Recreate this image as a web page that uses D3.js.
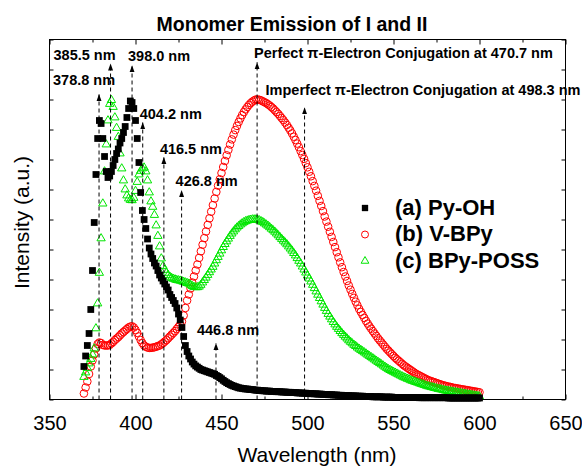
<!DOCTYPE html>
<html>
<head>
<meta charset="utf-8">
<script src="https://cdn.jsdelivr.net/npm/d3@7/dist/d3.min.js"></script>
<style>
  body { margin: 0; background: #fff; }
  text { font-family: "Liberation Sans", Arial, sans-serif; }
</style>
</head>
<body>
<svg width="582" height="468"></svg>
<script>
// wavelength grid, 1 nm steps
var wavelengths = d3.range(370, 601);

// (a) Py-OH
var pyOH = [
  1.1, 1.45, 1.8, 2.2, 3.0, 4.3, 5.9, 7.5, 8.7, 9.3,
  9.2, 8.7, 8.1, 7.6, 7.4, 7.45, 7.6, 7.8, 8.0, 8.2,
  8.35, 8.55, 8.7, 8.9, 9.1, 9.4, 9.7, 9.95, 9.9, 9.7,
  9.3, 8.7, 7.9, 6.9, 6.3, 6.0, 5.7, 5.35, 5.05, 4.85,
  4.7, 4.55, 4.45, 4.3, 4.15, 4.05, 3.95, 3.85, 3.75, 3.65,
  3.5, 3.4, 3.3, 3.2, 3.05, 2.85, 2.65, 2.4, 2.1, 1.8,
  1.6, 1.45, 1.35, 1.25, 1.18, 1.12, 1.08, 1.04, 1.0, 0.98,
  0.96, 0.94, 0.92, 0.9, 0.88, 0.86, 0.84, 0.8, 0.77, 0.73,
  0.69, 0.64, 0.6, 0.56, 0.53, 0.5, 0.47, 0.45, 0.43, 0.41,
  0.39, 0.38, 0.37, 0.36, 0.35, 0.35, 0.34, 0.33, 0.33, 0.32,
  0.31, 0.31, 0.30, 0.30, 0.29, 0.29, 0.28, 0.28, 0.28, 0.27,
  0.27, 0.27, 0.26, 0.26, 0.26, 0.25, 0.25, 0.25, 0.24, 0.24,
  0.24, 0.23, 0.23, 0.23, 0.22, 0.22, 0.22, 0.21, 0.21, 0.21,
  0.20, 0.20, 0.20, 0.19, 0.19, 0.19, 0.18, 0.18, 0.18, 0.17,
  0.17, 0.17, 0.16, 0.16, 0.16, 0.15, 0.15, 0.15, 0.14, 0.14,
  0.14, 0.13, 0.13, 0.13, 0.13, 0.12, 0.12, 0.12, 0.12, 0.11,
  0.11, 0.11, 0.11, 0.10, 0.10, 0.10, 0.10, 0.10, 0.09, 0.09,
  0.09, 0.09, 0.09, 0.09, 0.08, 0.08, 0.08, 0.08, 0.08, 0.08,
  0.07, 0.07, 0.07, 0.07, 0.07, 0.07, 0.07, 0.07, 0.07, 0.07,
  0.07, 0.07, 0.07, 0.07, 0.07, 0.06, 0.06, 0.06, 0.06, 0.06,
  0.06, 0.06, 0.06, 0.06, 0.06, 0.06, 0.06, 0.06, 0.06, 0.06,
  0.06, 0.06, 0.05, 0.05, 0.05, 0.05, 0.05, 0.05, 0.05, 0.05,
  0.05, 0.05, 0.05, 0.05, 0.05, 0.05, 0.05, 0.05, 0.05, 0.05,
  0.05
];

// (b) V-BPy
var vBPy = [
  0.2, 0.4, 0.6, 0.85, 1.1, 1.3, 1.5, 1.7, 1.85, 1.9,
  1.88, 1.82, 1.8, 1.8, 1.8, 1.82, 1.87, 1.92, 1.98, 2.03,
  2.08, 2.14, 2.2, 2.25, 2.3, 2.35, 2.4, 2.43, 2.44, 2.4,
  2.32, 2.22, 2.1, 1.98, 1.88, 1.8, 1.76, 1.73, 1.72, 1.72,
  1.73, 1.74, 1.76, 1.78, 1.8, 1.84, 1.88, 1.93, 1.98, 2.04,
  2.1, 2.16, 2.22, 2.28, 2.35, 2.42, 2.5, 2.6, 2.8, 3.05,
  3.3, 3.5, 3.7, 3.9, 4.1, 4.3, 4.5, 4.72, 4.94, 5.16,
  5.38, 5.6, 5.82, 6.04, 6.26, 6.48, 6.7, 6.92, 7.13, 7.34,
  7.55, 7.75, 7.95, 8.14, 8.32, 8.5, 8.67, 8.83, 8.98, 9.12,
  9.25, 9.37, 9.48, 9.58, 9.67, 9.75, 9.82, 9.88, 9.93, 9.97,
  10.0, 10.0, 9.99, 9.97, 9.94, 9.91, 9.88, 9.84, 9.8, 9.75,
  9.7, 9.64, 9.58, 9.52, 9.45, 9.38, 9.31, 9.23, 9.15, 9.06,
  8.97, 8.87, 8.76, 8.65, 8.53, 8.41, 8.28, 8.15, 8.02, 7.88,
  7.74, 7.59, 7.44, 7.28, 7.12, 6.96, 6.79, 6.62, 6.45, 6.28,
  6.1, 5.93, 5.76, 5.59, 5.42, 5.25, 5.08, 4.91, 4.74, 4.57,
  4.41, 4.25, 4.1, 3.95, 3.8, 3.66, 3.52, 3.39, 3.26, 3.14,
  3.02, 2.92, 2.82, 2.72, 2.62, 2.53, 2.44, 2.36, 2.28, 2.2,
  2.12, 2.04, 1.97, 1.9, 1.83, 1.76, 1.69, 1.63, 1.57, 1.51,
  1.45, 1.39, 1.34, 1.29, 1.24, 1.19, 1.14, 1.1, 1.06, 1.02,
  0.98, 0.94, 0.9, 0.86, 0.83, 0.8, 0.77, 0.74, 0.71, 0.68,
  0.65, 0.63, 0.61, 0.59, 0.57, 0.55, 0.53, 0.51, 0.49, 0.47,
  0.46, 0.44, 0.43, 0.42, 0.4, 0.39, 0.38, 0.37, 0.36, 0.35,
  0.34, 0.33, 0.32, 0.31, 0.3, 0.29, 0.28, 0.27, 0.26, 0.25,
  0.24
];

// (c) BPy-POSS
var bpyPOSS = [
  0.75, 0.9, 1.05, 1.2, 1.35, 1.5, 1.7, 2.37, 3.2, 4.22,
  5.37, 6.53, 7.6, 8.5, 9.3, 9.85, 9.98, 9.75, 9.4, 9.05,
  8.75, 8.2, 7.7, 7.3, 7.0, 6.8, 6.7, 6.65, 6.64, 6.72,
  6.95, 7.25, 7.5, 7.62, 7.7, 7.73, 7.6, 7.3, 6.9, 6.6,
  6.42, 6.15, 5.8, 5.45, 5.1, 4.7, 4.45, 4.32, 4.22, 4.15,
  4.09, 4.05, 4.02, 4.0, 3.98, 3.97, 3.96, 3.94, 3.92, 3.9,
  3.88, 3.86, 3.82, 3.78, 3.75, 3.74, 3.74, 3.76, 3.82, 3.9,
  3.98, 4.06, 4.15, 4.24, 4.33, 4.42, 4.53, 4.64, 4.75, 4.86,
  4.97, 5.08, 5.18, 5.27, 5.36, 5.45, 5.53, 5.6, 5.67, 5.73,
  5.78, 5.83, 5.87, 5.91, 5.94, 5.96, 5.98, 5.99, 6.0, 6.0,
  6.0, 5.99, 5.97, 5.94, 5.91, 5.87, 5.83, 5.79, 5.74, 5.69,
  5.64, 5.59, 5.53, 5.47, 5.41, 5.35, 5.29, 5.23, 5.17, 5.1,
  5.03, 4.96, 4.88, 4.8, 4.71, 4.62, 4.53, 4.43, 4.33, 4.23,
  4.13, 4.03, 3.93, 3.82, 3.71, 3.6, 3.49, 3.38, 3.27, 3.16,
  3.05, 2.95, 2.85, 2.76, 2.67, 2.58, 2.5, 2.42, 2.35, 2.28,
  2.21, 2.15, 2.09, 2.03, 1.97, 1.92, 1.87, 1.82, 1.78, 1.73,
  1.69, 1.65, 1.61, 1.57, 1.53, 1.49, 1.45, 1.41, 1.37, 1.33,
  1.29, 1.25, 1.21, 1.17, 1.13, 1.09, 1.05, 1.01, 0.98, 0.95,
  0.92, 0.89, 0.86, 0.83, 0.8, 0.77, 0.74, 0.72, 0.69, 0.67,
  0.64, 0.62, 0.6, 0.58, 0.56, 0.54, 0.52, 0.5, 0.48, 0.46,
  0.44, 0.43, 0.41, 0.4, 0.38, 0.37, 0.35, 0.34, 0.33, 0.31,
  0.3, 0.29, 0.28, 0.27, 0.26, 0.25, 0.24, 0.23, 0.22, 0.21,
  0.2, 0.19, 0.18, 0.17, 0.16, 0.15, 0.14, 0.13, 0.12, 0.11,
  0.1
];

var seriesNames = ["(a) Py-OH", "(b) V-BPy", "(c) BPy-POSS"];
var xTicks = [350, 400, 450, 500, 550, 600, 650];
var xMinor = [375, 425, 475, 525, 575, 625];

// peak markers: wavelength, arrow tip height, label
var peakWl = [385.5, 378.8, 398.0, 404.2, 416.5, 426.8, 446.8, 470.7, 498.3];
var peakTip = [11.2, 10.18, 11.14, 9.24, 8.08, 6.98, 1.88, 11.24, 9.74];
var peakLabels = ["385.5 nm", "378.8 nm", "398.0 nm", "404.2 nm", "416.5 nm", "426.8 nm", "446.8 nm",
  "Perfect \u03c0-Electron Conjugation at 470.7 nm",
  "Imperfect \u03c0-Electron Conjugation at 498.3 nm"];
var labelDx = [-57, -46, -4, -3, -4, -6, -19, -3, -39];
var labelDy = [-4, -9, -4, -3, -3, -4, -8, -4, -12];

var svg = d3.select("svg"),
    pLeft = 49.5, pRight = 565.5, pTop = 39.5, pBottom = 399.5;

var x = d3.scaleLinear().domain([350, 650]).range([pLeft, pRight]);
var y = d3.scaleLinear().domain([0, 12]).range([pBottom, pTop]);

svg.append("defs").append("marker")
    .attr("id", "arrowhead")
    .attr("viewBox", "0 -4 8 8")
    .attr("refX", 7)
    .attr("refY", 0)
    .attr("orient", "auto")
    .attr("markerUnits", "userSpaceOnUse")
    .attr("markerWidth", 8)
    .attr("markerHeight", 8)
  .append("path")
    .attr("d", "M 0,-2.5 L 7,0 L 0,2.5 z")
    .attr("fill", "#000");

// title
svg.append("text")
    .attr("x", 292).attr("y", 31)
    .attr("text-anchor", "middle")
    .style("font-size", "19.5px").style("font-weight", "bold")
    .text("Monomer Emission of I and II");

// series, drawn red first, then green, then black on top
var pts = function (arr) { return wavelengths.map(function (w, i) { return [w, arr[i]]; }); };

svg.append("g").selectAll("circle")
    .data(pts(vBPy)).enter().append("circle")
    .attr("cx", function (d) { return x(d[0]); })
    .attr("cy", function (d) { return y(d[1]); })
    .attr("r", 3.8)
    .attr("fill", "none")
    .attr("stroke", "#ff0000")
    .attr("stroke-width", 1);

var tri = d3.symbol().type(d3.symbolTriangle).size(30);
svg.append("g").selectAll("path")
    .data(pts(bpyPOSS)).enter().append("path")
    .attr("d", tri)
    .attr("transform", function (d) { return "translate(" + x(d[0]) + "," + y(d[1]) + ")"; })
    .attr("fill", "none")
    .attr("stroke", "#00e600")
    .attr("stroke-width", 1);

var sq = d3.symbol().type(d3.symbolSquare).size(46);
svg.append("g").selectAll("path")
    .data(pts(pyOH)).enter().append("path")
    .attr("d", sq)
    .attr("transform", function (d) { return "translate(" + x(d[0]) + "," + y(d[1]) + ")"; })
    .attr("fill", "#000");

// dashed peak lines with arrows
var ann = svg.append("g");
peakWl.forEach(function (w, i) {
  ann.append("line")
      .attr("x1", x(w)).attr("x2", x(w))
      .attr("y1", pBottom).attr("y2", y(peakTip[i]))
      .attr("stroke", "#000")
      .attr("stroke-width", 1)
      .attr("stroke-dasharray", "4,3")
      .attr("marker-end", "url(#arrowhead)");
  ann.append("text")
      .attr("x", x(w) + labelDx[i])
      .attr("y", y(peakTip[i]) + labelDy[i])
      .style("font-size", "14.5px").style("font-weight", "bold")
      .text(peakLabels[i]);
});

// axes
var gx = svg.append("g").attr("transform", "translate(0," + pBottom + ")")
    .call(d3.axisBottom(x).tickValues(xTicks).tickSize(-5).tickPadding(16).tickFormat(d3.format("d")));
gx.selectAll("text").style("font-size", "20px").attr("fill", "#000");
svg.append("g").attr("transform", "translate(0," + pBottom + ")")
    .call(d3.axisBottom(x).tickValues(xMinor).tickSize(-3).tickFormat(""));
svg.append("g").attr("transform", "translate(0," + pTop + ")")
    .call(d3.axisTop(x).tickValues(xTicks).tickSize(-5).tickFormat(""));
svg.append("g").attr("transform", "translate(0," + pTop + ")")
    .call(d3.axisTop(x).tickValues(xMinor).tickSize(-3).tickFormat(""));
svg.append("g").attr("transform", "translate(" + pLeft + ",0)")
    .call(d3.axisLeft(y).ticks(12).tickSize(-4).tickFormat(""));
svg.append("g").attr("transform", "translate(" + pRight + ",0)")
    .call(d3.axisRight(y).ticks(12).tickSize(-4).tickFormat(""));
svg.selectAll(".domain").remove();
svg.selectAll(".tick line").attr("stroke", "#000");

svg.append("rect")
    .attr("x", pLeft).attr("y", pTop)
    .attr("width", pRight - pLeft).attr("height", pBottom - pTop)
    .attr("fill", "none").attr("stroke", "#000").attr("stroke-width", 1);

svg.append("text")
    .attr("x", 317).attr("y", 462)
    .attr("text-anchor", "middle")
    .style("font-size", "21px")
    .text("Wavelength (nm)");

svg.append("text")
    .attr("transform", "translate(29," + ((pTop + pBottom) / 2 + 3) + ") rotate(-90)")
    .attr("text-anchor", "middle")
    .style("font-size", "21px")
    .text("Intensity (a.u.)");

// legend
var lg = svg.append("g");
var legendRow = function (i) { return 208 + i * 26.5; };
lg.append("path").attr("d", d3.symbol().type(d3.symbolSquare).size(40)())
    .attr("transform", "translate(365," + legendRow(0) + ")").attr("fill", "#000");
lg.append("circle").attr("cx", 365).attr("cy", legendRow(1)).attr("r", 3.5)
    .attr("fill", "none").attr("stroke", "#ff0000");
lg.append("path").attr("d", d3.symbol().type(d3.symbolTriangle).size(26)())
    .attr("transform", "translate(365," + legendRow(2) + ")")
    .attr("fill", "none").attr("stroke", "#00e600");
seriesNames.forEach(function (s, i) {
  lg.append("text")
      .attr("x", 395).attr("y", legendRow(i) + 6.5)
      .style("font-size", "22px").style("font-weight", "bold")
      .text(s);
});
</script>
</body>
</html>
